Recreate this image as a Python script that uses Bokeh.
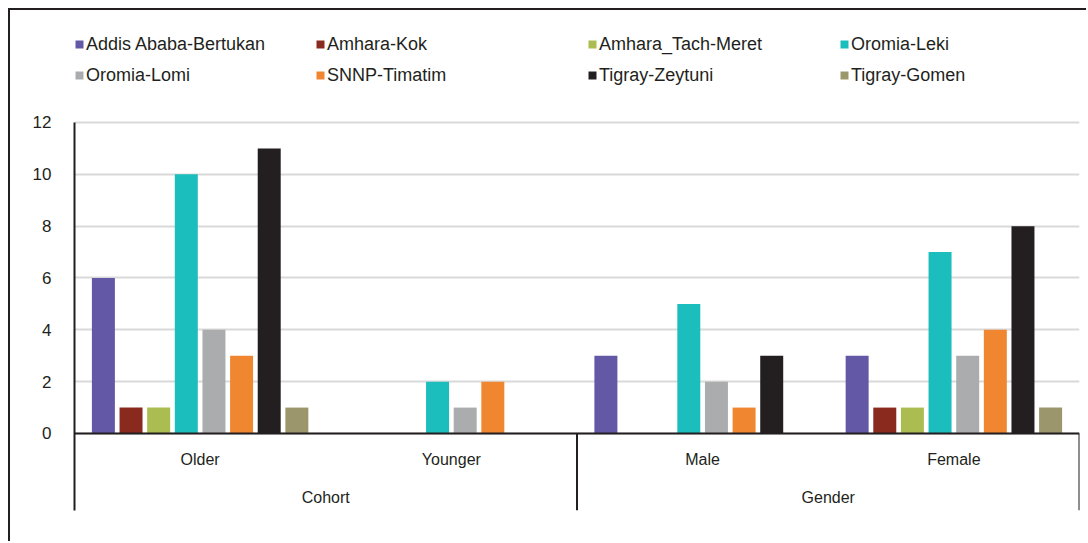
from bokeh.plotting import figure
from bokeh.models import (FactorRange, Range1d, FixedTicker, Span, Legend, LegendItem,
                          ColumnDataSource)
from bokeh.transform import dodge
from bokeh.core.properties import value
from bokeh.embed import file_html
from bokeh.resources import INLINE

# ---------------- data ----------------
groups = ["Cohort", "Gender"]
factors = [("Cohort", "Older"), ("Cohort", "Younger"), ("Gender", "Male"), ("Gender", "Female")]
series_names = ["Addis Ababa-Bertukan", "Amhara-Kok", "Amhara_Tach-Meret", "Oromia-Leki",
                "Oromia-Lomi", "SNNP-Timatim", "Tigray-Zeytuni", "Tigray-Gomen"]
addis = [6, 0, 3, 3]
kok = [1, 0, 0, 1]
tach = [1, 0, 0, 1]
leki = [10, 2, 5, 7]
lomi = [4, 1, 2, 3]
timatim = [3, 2, 1, 4]
zeytuni = [11, 0, 3, 8]
gomen = [1, 0, 0, 1]
y_ticks = [0, 2, 4, 6, 8, 10, 12]

series_values = [addis, kok, tach, leki, lomi, timatim, zeytuni, gomen]
colors = ["#6358A5", "#8A2A1F", "#ABBD50", "#1CBDBD", "#ABACAE", "#F08730", "#231F20", "#9C966C"]

FONT = "Liberation Sans"
TXT = "#231f20"

Y_TOP = 16.32
Y_BOT = -2.971

p = figure(width=1078, height=533,
           x_range=FactorRange(*factors, group_padding=0, factor_padding=0, range_padding=0),
           y_range=Range1d(Y_BOT, Y_TOP),
           output_backend="svg", toolbar_location=None,
           min_border_left=64, min_border_right=9, min_border_top=0, min_border_bottom=33)
p.styles = {"margin-left": "10px", "margin-top": "10px",
            "box-shadow": "-2px -2px 0px 0px #231f20"}
p.outline_line_color = None
p.background_fill_color = "white"
p.border_fill_color = "white"

# axes
p.xaxis.visible = False
p.xgrid.visible = False
ticker = FixedTicker(ticks=y_ticks)
p.yaxis.ticker = ticker
p.yaxis.bounds = (Y_BOT, 12)
p.yaxis.axis_line_color = TXT
p.yaxis.axis_line_width = 2
p.yaxis.major_tick_line_color = None
p.yaxis.minor_tick_line_color = None
p.yaxis.major_label_standoff = 17
p.yaxis.major_label_text_font = FONT
p.yaxis.major_label_text_font_size = "17px"
p.yaxis.major_label_text_color = TXT
p.ygrid.ticker = ticker
p.ygrid.grid_line_color = "#d9d9d9"
p.ygrid.grid_line_width = 2

# bars
slot = 0.110
bar_w = 0.0915
renderers = []
for i, (name, vals, col) in enumerate(zip(series_names, series_values, colors)):
    src = ColumnDataSource(dict(x=factors, top=vals))
    r = p.vbar(x=dodge("x", (i - 3.5) * slot, range=p.x_range), top="top", width=bar_w,
               source=src, fill_color=col, line_color=None)
    renderers.append(r)

# baseline
p.add_layout(Span(location=0, dimension="width", line_color=TXT, line_width=2))

# separators below the axis
p.segment(x0=[2.0, 4.0], y0=[0, 0], x1=[2.0, 4.0], y1=[Y_BOT, Y_BOT], line_color=TXT, line_width=2)

# category labels
sub_labels = [f[1] for f in factors]
p.text(x=factors, y=[-1.0] * len(factors), text=sub_labels, text_align="center",
       text_baseline="middle", text_font=value(FONT), text_font_size="16px", text_color=TXT)
p.text(x=groups, y=[-2.47] * len(groups), text=groups, text_align="center",
       text_baseline="middle", text_font=value(FONT), text_font_size="16px", text_color=TXT)

# legends: 4 columns of 2 rows
col_x = [0, 241, 513, 765]
for c in range(4):
    items = [LegendItem(label=series_names[c], renderers=[renderers[c]]),
             LegendItem(label=series_names[c + 4], renderers=[renderers[c + 4]])]
    lg = Legend(items=items, location=(col_x[c], 424.3), orientation="vertical",
                glyph_width=10, glyph_height=10, label_standoff=2, label_height=20,
                spacing=10, padding=0, margin=0, border_line_alpha=0,
                background_fill_alpha=0, label_text_font=FONT,
                label_text_font_size="18px", label_text_color=TXT)
    p.add_layout(lg, "center")

open("out.html", "w").write(file_html(p, INLINE))
